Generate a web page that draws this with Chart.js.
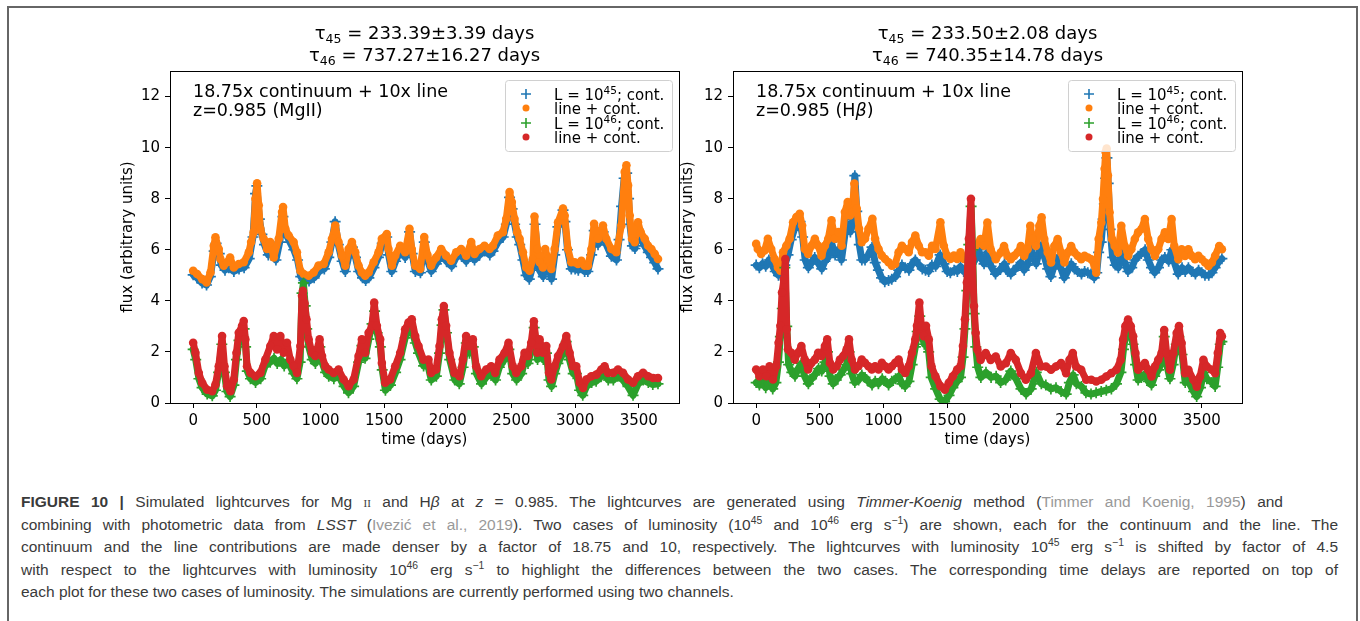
<!DOCTYPE html>
<html>
<head>
<meta charset="utf-8">
<title>Simulated lightcurves</title>
<script src="https://cdn.jsdelivr.net/npm/chart.js@4.4.0/dist/chart.umd.min.js"></script>
<style>
  body { margin: 0; background: #fff; overflow: hidden; }
  #frame { position: absolute; left: 7px; top: 6px; width: 1347px; height: 640px; border: 2px solid #666; border-bottom: none; }
  #mgChart { position: absolute; left: 0; top: 0; }
  #hbChart { position: absolute; left: 672px; top: 0; }
  #caption {
    position: absolute; left: 21px; top: 491px;
    font-family: "Liberation Sans", Arial, Helvetica, sans-serif;
    font-size: 15.5px; line-height: 22.5px; color: #3a3a3a;
  }
  #caption div { white-space: nowrap; }
  #caption .j { text-align: justify; text-align-last: justify; }
  #caption .l1 { width: 1262px; }
  #caption .l2 { width: 1317px; }
  #caption .ref { color: #999; }
  #caption sup { font-size: 0.67em; line-height: 0; }
  #caption .sc { font-family: "Liberation Serif", serif; font-variant: small-caps; }
</style>
</head>
<body>
<div id="frame"></div>
<canvas id="mgChart" width="690" height="460"></canvas>
<canvas id="hbChart" width="688" height="460"></canvas>
<div id="caption">
<div class="j l1"><b>FIGURE 10 |</b> Simulated lightcurves for Mg <span class="sc">ii</span> and H<i>β</i> at <i>z</i> = 0.985. The lightcurves are generated using <i>Timmer-Koenig</i> method (<span class="ref">Timmer and Koenig, 1995</span>) and</div>
<div class="j l2">combining with photometric data from <i>LSST</i> (<span class="ref">Ivezić et al., 2019</span>). Two cases of luminosity (10<sup>45</sup> and 10<sup>46</sup> erg s<sup>−1</sup>) are shown, each for the continuum and the line. The</div>
<div class="j l2">continuum and the line contributions are made denser by a factor of 18.75 and 10, respectively. The lightcurves with luminosity 10<sup>45</sup> erg s<sup>−1</sup> is shifted by factor of 4.5</div>
<div class="j l2">with respect to the lightcurves with luminosity 10<sup>46</sup> erg s<sup>−1</sup> to highlight the differences between the two cases. The corresponding time delays are reported on top of</div>
<div>each plot for these two cases of luminosity. The simulations are currently performed using two channels.</div>
</div>
<script>
// ---- tick labels ----
var xTicks = [0, 500, 1000, 1500, 2000, 2500, 3000, 3500];
var yTicks = [0, 2, 4, 6, 8, 10, 12];

// ---- Mg II panel: L = 1e45 continuum (blue +) ----
var mgCont45Days = [0, 30, 70, 105, 135, 165, 180, 205, 220, 250, 280, 320, 360, 400, 440, 470, 490, 500, 520, 540, 560, 590, 620, 650, 680, 705, 730, 760, 790, 820, 845, 870, 910, 950, 990, 1030, 1065, 1090, 1115, 1140, 1170, 1195, 1225, 1250, 1275, 1300, 1330, 1355, 1380, 1420, 1455, 1485, 1520, 1535, 1560, 1590, 1625, 1665, 1700, 1720, 1745, 1785, 1815, 1840, 1870, 1910, 1950, 1990, 2030, 2065, 2105, 2145, 2185, 2210, 2250, 2290, 2330, 2355, 2395, 2435, 2460, 2485, 2505, 2525, 2545, 2565, 2590, 2615, 2640, 2670, 2685, 2705, 2720, 2750, 2765, 2790, 2815, 2840, 2865, 2905, 2920, 2940, 2970, 3000, 3025, 3050, 3075, 3100, 3130, 3150, 3180, 3220, 3245, 3285, 3325, 3345, 3365, 3385, 3405, 3420, 3430, 3450, 3470, 3495, 3515, 3545, 3575, 3600, 3625, 3651];
var mgCont45 = [5.02, 4.90, 4.70, 4.62, 4.95, 5.95, 6.25, 5.85, 5.40, 5.20, 5.30, 5.15, 5.25, 5.30, 5.65, 6.50, 8.20, 8.50, 7.20, 6.60, 6.20, 5.80, 6.00, 5.60, 6.30, 7.30, 6.60, 6.30, 6.00, 5.60, 4.95, 4.80, 4.78, 4.90, 5.15, 5.25, 5.70, 6.30, 7.10, 6.20, 5.55, 5.15, 5.80, 6.10, 5.70, 5.15, 4.90, 4.80, 4.90, 5.30, 5.70, 6.25, 6.50, 5.80, 5.15, 5.55, 5.95, 5.70, 6.70, 5.85, 5.15, 5.10, 6.30, 5.60, 5.15, 5.45, 5.80, 5.55, 5.35, 5.70, 5.80, 5.55, 6.05, 5.60, 5.80, 5.95, 5.80, 5.95, 6.30, 6.50, 7.00, 8.05, 7.60, 7.00, 6.50, 6.20, 5.60, 5.00, 4.85, 5.40, 7.00, 5.80, 5.20, 4.95, 5.80, 5.40, 4.85, 5.80, 6.90, 7.55, 7.10, 6.00, 5.25, 5.25, 5.20, 5.30, 5.15, 5.15, 5.80, 6.75, 6.20, 6.70, 6.20, 5.75, 5.60, 6.40, 7.70, 8.80, 9.00, 8.00, 7.00, 6.15, 6.05, 6.80, 6.45, 6.15, 5.90, 5.70, 5.50, 5.25];

// ---- Mg II panel: L = 1e45 line + continuum (orange) ----
var mgLine45Days = [0, 31, 71, 105, 136, 162, 175, 201, 214, 240, 267, 290, 319, 358, 397, 437, 455, 475, 489, 502, 515, 528, 554, 580, 605, 633, 672, 698, 706, 724, 750, 789, 815, 842, 868, 907, 946, 985, 1025, 1064, 1090, 1116, 1142, 1168, 1195, 1221, 1247, 1273, 1299, 1325, 1351, 1378, 1417, 1456, 1482, 1521, 1534, 1561, 1587, 1626, 1665, 1699, 1717, 1744, 1783, 1815, 1840, 1869, 1908, 1948, 1987, 2026, 2066, 2105, 2144, 2184, 2210, 2249, 2288, 2328, 2354, 2393, 2433, 2459, 2485, 2503, 2524, 2545, 2564, 2590, 2616, 2642, 2668, 2681, 2703, 2721, 2747, 2765, 2787, 2813, 2839, 2866, 2905, 2918, 2944, 2970, 2997, 3023, 3049, 3075, 3101, 3128, 3149, 3180, 3219, 3245, 3285, 3324, 3363, 3390, 3403, 3416, 3429, 3447, 3468, 3494, 3515, 3547, 3573, 3599, 3625, 3651];
var mgLine45 = [5.18, 5.05, 4.85, 4.72, 5.11, 6.16, 6.49, 6.03, 5.64, 5.38, 5.51, 5.70, 5.31, 5.44, 5.51, 5.90, 6.30, 6.69, 8.00, 8.60, 7.74, 6.82, 6.43, 6.03, 6.30, 5.70, 6.43, 7.48, 7.67, 6.82, 6.56, 6.30, 5.90, 5.18, 5.05, 4.98, 5.11, 5.38, 5.44, 5.90, 6.43, 6.95, 6.30, 5.77, 5.38, 6.03, 6.30, 5.90, 5.38, 5.11, 4.98, 5.11, 5.51, 5.90, 6.43, 6.62, 6.03, 5.38, 5.77, 6.16, 5.90, 6.82, 6.03, 5.38, 5.25, 6.50, 5.80, 5.38, 5.70, 6.03, 5.77, 5.57, 5.90, 6.03, 5.77, 6.30, 5.84, 6.03, 6.16, 6.03, 6.16, 6.56, 6.69, 7.21, 8.26, 7.87, 7.21, 6.69, 6.43, 5.90, 5.31, 5.18, 5.64, 7.30, 6.03, 5.51, 5.31, 6.03, 5.64, 5.25, 6.03, 7.08, 7.61, 7.34, 6.03, 5.51, 5.51, 5.44, 5.57, 5.38, 5.38, 6.03, 7.02, 6.43, 6.95, 6.43, 6.03, 5.90, 6.95, 9.05, 9.31, 8.52, 7.34, 6.43, 6.30, 7.08, 6.69, 6.43, 6.16, 6.03, 5.84, 5.64];

// ---- Mg II panel: L = 1e46 continuum (green +) ----
var mgCont46Days = [0, 20, 45, 70, 110, 150, 175, 200, 225, 245, 265, 290, 320, 340, 360, 385, 400, 412, 425, 450, 490, 530, 565, 605, 635, 660, 690, 715, 740, 765, 790, 815, 840, 855, 866, 880, 892, 908, 935, 960, 995, 1015, 1040, 1065, 1105, 1145, 1185, 1220, 1260, 1300, 1325, 1350, 1380, 1405, 1425, 1445, 1470, 1485, 1510, 1550, 1590, 1625, 1665, 1690, 1715, 1745, 1770, 1810, 1845, 1870, 1910, 1935, 1955, 1970, 1990, 2015, 2055, 2090, 2120, 2145, 2170, 2200, 2225, 2265, 2300, 2340, 2375, 2405, 2445, 2480, 2510, 2540, 2580, 2605, 2630, 2655, 2678, 2705, 2720, 2750, 2775, 2795, 2815, 2840, 2865, 2905, 2930, 2955, 2985, 3010, 3035, 3060, 3090, 3130, 3165, 3205, 3230, 3260, 3300, 3335, 3375, 3415, 3455, 3495, 3535, 3575, 3610, 3651];
var mgCont46 = [2.10, 1.70, 0.95, 0.60, 0.35, 0.28, 0.50, 1.20, 2.30, 1.20, 0.45, 0.25, 0.70, 1.70, 2.45, 2.80, 2.90, 2.20, 1.25, 0.95, 0.80, 0.95, 1.45, 1.60, 1.75, 1.55, 1.70, 1.45, 1.60, 1.40, 1.15, 0.95, 1.60, 4.30, 4.70, 3.80, 2.90, 2.20, 1.70, 1.55, 2.20, 1.55, 1.20, 1.05, 0.95, 1.05, 0.65, 0.40, 0.65, 1.60, 2.25, 1.75, 2.50, 3.10, 3.60, 2.75, 2.20, 1.30, 0.50, 0.70, 1.20, 1.70, 2.55, 2.85, 2.95, 2.35, 1.95, 1.45, 1.45, 0.90, 1.05, 1.95, 3.05, 3.65, 2.75, 1.70, 0.90, 0.75, 1.40, 2.35, 1.95, 2.20, 1.15, 0.75, 1.00, 1.15, 0.90, 1.40, 1.70, 2.10, 1.15, 0.90, 1.15, 1.70, 1.55, 2.10, 2.95, 1.70, 2.20, 1.70, 1.95, 0.90, 0.65, 1.15, 1.55, 1.95, 2.40, 1.70, 1.15, 1.15, 0.50, 0.30, 0.65, 0.80, 0.85, 1.05, 1.15, 0.90, 0.90, 1.05, 0.90, 0.65, 0.30, 0.75, 0.90, 0.80, 0.72, 0.75];

// ---- Mg II panel: L = 1e46 line + continuum (red) ----
var mgLine46Days = [0, 18, 44, 71, 110, 149, 175, 201, 227, 246, 267, 293, 319, 340, 358, 384, 397, 410, 423, 450, 489, 528, 567, 606, 633, 659, 685, 711, 737, 763, 789, 815, 842, 855, 862, 875, 890, 907, 933, 959, 993, 1012, 1038, 1064, 1103, 1142, 1182, 1221, 1260, 1299, 1325, 1351, 1378, 1404, 1422, 1443, 1469, 1482, 1508, 1547, 1587, 1626, 1665, 1691, 1717, 1744, 1770, 1809, 1848, 1869, 1908, 1935, 1953, 1969, 1987, 2013, 2052, 2092, 2118, 2144, 2170, 2197, 2223, 2262, 2302, 2341, 2372, 2406, 2446, 2477, 2511, 2537, 2577, 2603, 2629, 2655, 2676, 2703, 2721, 2747, 2774, 2795, 2813, 2839, 2866, 2905, 2931, 2957, 2983, 3009, 3036, 3062, 3088, 3128, 3167, 3206, 3232, 3258, 3298, 3337, 3376, 3416, 3455, 3494, 3534, 3573, 3612, 3651];
var mgLine46 = [2.36, 1.97, 1.18, 0.79, 0.52, 0.46, 0.72, 1.44, 2.62, 1.44, 0.66, 0.46, 0.92, 1.97, 2.75, 3.02, 3.21, 2.49, 1.44, 1.18, 1.05, 1.18, 1.70, 2.23, 2.62, 2.10, 2.62, 1.97, 2.36, 1.70, 1.44, 1.18, 2.23, 4.20, 4.39, 3.90, 3.28, 2.49, 1.97, 1.84, 2.49, 1.84, 1.44, 1.31, 1.18, 1.31, 0.92, 0.66, 0.92, 1.84, 2.49, 1.97, 2.75, 3.02, 3.93, 3.02, 2.49, 1.57, 0.79, 0.92, 1.44, 1.97, 2.89, 3.15, 3.28, 2.62, 2.23, 1.70, 1.70, 1.18, 1.31, 2.23, 3.28, 3.80, 3.02, 1.97, 1.18, 1.05, 1.70, 2.62, 2.23, 2.49, 1.44, 1.05, 1.31, 1.44, 1.18, 1.70, 1.97, 2.36, 1.44, 1.18, 1.44, 1.97, 1.84, 2.36, 3.20, 1.97, 2.49, 1.97, 2.23, 1.18, 0.92, 1.44, 1.84, 2.23, 2.62, 1.97, 1.44, 1.44, 0.79, 0.59, 0.92, 1.05, 1.11, 1.31, 1.44, 1.18, 1.18, 1.31, 1.18, 0.92, 0.79, 1.05, 1.18, 1.05, 0.98, 0.98];

// ---- H beta panel: L = 1e45 continuum (blue +) ----
var hbCont45Days = [0, 25, 50, 75, 100, 125, 150, 175, 200, 225, 250, 275, 300, 325, 345, 365, 385, 410, 435, 460, 490, 515, 540, 565, 590, 620, 645, 670, 700, 720, 740, 760, 775, 790, 810, 830, 855, 880, 910, 935, 960, 985, 1010, 1040, 1065, 1095, 1120, 1145, 1170, 1200, 1225, 1250, 1280, 1305, 1330, 1355, 1380, 1410, 1445, 1475, 1500, 1525, 1555, 1580, 1605, 1630, 1660, 1690, 1720, 1745, 1765, 1790, 1815, 1845, 1880, 1920, 1950, 1975, 2000, 2025, 2055, 2080, 2105, 2130, 2155, 2175, 2200, 2225, 2245, 2265, 2290, 2315, 2345, 2370, 2395, 2420, 2450, 2475, 2500, 2525, 2555, 2580, 2605, 2630, 2655, 2675, 2690, 2710, 2725, 2735, 2745, 2755, 2765, 2780, 2800, 2820, 2845, 2870, 2895, 2920, 2950, 2975, 3000, 3025, 3055, 3080, 3105, 3130, 3160, 3185, 3210, 3240, 3265, 3285, 3315, 3345, 3370, 3395, 3420, 3450, 3475, 3500, 3525, 3555, 3580, 3605, 3635, 3658];
var hbCont45 = [5.40, 5.30, 5.45, 5.35, 5.60, 5.40, 5.15, 5.00, 5.10, 5.40, 5.80, 6.40, 6.80, 6.95, 7.10, 6.50, 5.60, 5.30, 5.50, 5.70, 5.45, 5.25, 5.55, 5.70, 6.30, 5.80, 6.00, 5.60, 6.70, 7.00, 6.70, 7.20, 8.90, 7.50, 6.20, 5.60, 5.60, 5.80, 6.10, 5.50, 5.20, 4.90, 4.75, 4.80, 4.85, 4.95, 5.20, 5.40, 5.30, 5.20, 5.45, 5.60, 5.40, 5.25, 5.20, 5.15, 5.40, 5.35, 5.80, 5.45, 5.15, 5.10, 5.20, 5.15, 5.35, 5.15, 5.25, 5.45, 5.60, 6.00, 5.70, 5.45, 5.90, 5.35, 5.05, 5.25, 5.45, 5.15, 5.05, 5.20, 5.35, 5.50, 5.20, 5.40, 6.10, 5.70, 5.45, 6.00, 6.20, 5.70, 5.25, 4.95, 5.45, 5.70, 5.25, 4.90, 5.20, 5.45, 5.25, 5.15, 5.05, 5.15, 5.10, 5.05, 4.90, 5.10, 5.90, 6.30, 7.20, 7.80, 8.80, 9.60, 8.60, 6.80, 5.70, 5.40, 5.30, 5.90, 5.50, 5.15, 5.30, 5.60, 5.75, 5.85, 6.00, 5.60, 5.30, 5.10, 5.30, 5.60, 5.70, 5.55, 6.00, 5.50, 5.05, 5.30, 5.15, 5.30, 5.15, 5.05, 5.20, 5.10, 5.00, 5.00, 5.10, 5.30, 5.55, 5.65];

// ---- H beta panel: L = 1e45 line + continuum (orange) ----
var hbLine45Days = [0, 13, 39, 66, 92, 118, 145, 171, 190, 211, 237, 263, 290, 316, 342, 361, 382, 408, 434, 461, 487, 513, 540, 566, 592, 618, 645, 671, 697, 719, 737, 755, 771, 790, 808, 829, 855, 882, 913, 934, 961, 987, 1013, 1040, 1066, 1092, 1119, 1145, 1171, 1198, 1224, 1250, 1277, 1303, 1329, 1356, 1382, 1408, 1447, 1474, 1500, 1526, 1553, 1579, 1605, 1632, 1658, 1684, 1724, 1763, 1789, 1816, 1842, 1882, 1921, 1947, 1974, 2000, 2026, 2053, 2079, 2105, 2132, 2153, 2171, 2197, 2224, 2242, 2263, 2290, 2316, 2342, 2368, 2395, 2421, 2447, 2474, 2500, 2526, 2553, 2579, 2605, 2632, 2658, 2671, 2690, 2711, 2724, 2737, 2745, 2753, 2763, 2776, 2795, 2816, 2842, 2868, 2895, 2921, 2947, 2974, 3000, 3026, 3053, 3079, 3105, 3132, 3158, 3184, 3210, 3237, 3263, 3284, 3316, 3342, 3369, 3395, 3421, 3447, 3474, 3500, 3526, 3553, 3579, 3605, 3637, 3658];
var hbLine45 = [6.23, 6.03, 5.84, 5.97, 6.43, 6.03, 5.64, 5.31, 5.18, 5.90, 6.16, 6.43, 7.08, 7.28, 7.41, 6.95, 6.03, 5.84, 6.16, 6.43, 6.16, 5.77, 6.16, 6.43, 7.15, 6.43, 6.69, 6.16, 7.48, 7.87, 7.34, 7.48, 8.59, 7.61, 6.82, 6.30, 6.43, 6.82, 7.21, 6.43, 6.03, 5.77, 5.64, 5.51, 5.38, 5.44, 5.90, 6.16, 6.03, 5.90, 6.30, 6.56, 6.16, 5.90, 5.90, 5.77, 6.16, 6.03, 7.08, 6.16, 5.77, 5.64, 5.77, 5.64, 5.90, 5.64, 5.64, 5.90, 6.16, 6.42, 6.16, 7.07, 6.02, 5.63, 5.89, 6.15, 5.76, 5.63, 5.76, 5.89, 6.15, 5.76, 6.02, 6.94, 6.42, 6.15, 6.94, 7.27, 6.42, 5.89, 5.50, 6.15, 6.42, 5.89, 5.50, 5.89, 6.15, 5.89, 5.76, 5.63, 5.76, 5.70, 5.63, 5.37, 5.10, 6.42, 7.07, 7.99, 9.17, 9.83, 9.96, 8.91, 7.47, 6.42, 6.15, 5.89, 6.94, 6.15, 5.76, 6.02, 6.42, 6.68, 6.81, 7.20, 6.42, 6.02, 5.76, 6.02, 6.42, 6.68, 6.42, 7.20, 6.15, 5.63, 6.02, 5.76, 6.02, 5.76, 5.63, 5.76, 5.63, 5.50, 5.37, 5.50, 5.76, 6.15, 6.02];

// ---- H beta panel: L = 1e46 continuum (green +) ----
var hbCont46Days = [0, 25, 50, 75, 100, 130, 155, 175, 190, 205, 215, 225, 240, 255, 280, 305, 330, 355, 380, 410, 435, 460, 490, 515, 540, 560, 580, 605, 630, 660, 685, 710, 730, 750, 775, 805, 830, 855, 880, 910, 935, 960, 990, 1015, 1040, 1065, 1095, 1120, 1145, 1170, 1200, 1225, 1250, 1265, 1285, 1300, 1320, 1335, 1355, 1375, 1410, 1445, 1480, 1515, 1545, 1580, 1605, 1625, 1640, 1655, 1670, 1688, 1700, 1712, 1725, 1740, 1765, 1805, 1845, 1885, 1920, 1960, 2000, 2040, 2080, 2120, 2160, 2200, 2240, 2275, 2315, 2355, 2395, 2435, 2460, 2490, 2515, 2555, 2590, 2630, 2670, 2710, 2750, 2790, 2830, 2865, 2885, 2900, 2920, 2940, 2960, 2980, 3000, 3025, 3055, 3080, 3105, 3130, 3160, 3185, 3205, 3225, 3250, 3275, 3300, 3320, 3345, 3370, 3395, 3435, 3460, 3490, 3515, 3540, 3580, 3605, 3625, 3645, 3658];
var hbCont46 = [0.80, 0.70, 0.85, 0.60, 0.90, 0.55, 0.80, 1.60, 2.60, 3.70, 4.30, 5.30, 3.00, 1.50, 1.20, 1.05, 1.35, 1.55, 1.05, 0.75, 0.95, 1.10, 1.35, 1.25, 1.60, 2.00, 1.05, 0.75, 0.90, 1.10, 1.30, 1.50, 2.00, 1.15, 0.80, 0.90, 1.10, 1.00, 0.85, 0.70, 0.85, 0.75, 0.95, 0.85, 0.70, 0.85, 0.95, 1.05, 0.75, 0.65, 0.85, 1.50, 2.20, 2.80, 3.40, 2.70, 2.30, 2.50, 2.00, 1.00, 0.55, 0.15, 0.05, 0.30, 0.60, 0.85, 1.00, 1.80, 2.90, 4.40, 6.20, 7.70, 6.00, 3.50, 2.20, 1.40, 1.00, 1.20, 1.00, 1.05, 0.80, 0.90, 1.25, 0.95, 0.55, 0.35, 0.55, 1.20, 0.75, 0.70, 0.55, 0.60, 0.45, 0.35, 0.80, 1.10, 0.75, 0.65, 0.40, 0.35, 0.40, 0.45, 0.50, 0.55, 0.75, 1.20, 2.10, 2.60, 2.80, 2.70, 2.30, 1.50, 0.90, 1.00, 1.15, 0.85, 0.70, 1.05, 1.30, 1.60, 2.60, 1.50, 0.95, 1.50, 2.30, 2.60, 1.90, 0.80, 0.85, 0.45, 0.25, 0.60, 1.20, 0.95, 0.80, 0.65, 1.40, 2.30, 2.40];

// ---- H beta panel: L = 1e46 line + continuum (red) ----
var hbLine46Days = [0, 26, 53, 79, 105, 132, 158, 176, 190, 203, 218, 229, 240, 250, 276, 303, 329, 355, 382, 408, 434, 461, 487, 513, 540, 558, 579, 605, 632, 658, 684, 711, 729, 750, 776, 803, 829, 855, 882, 908, 934, 961, 987, 1013, 1040, 1066, 1092, 1119, 1145, 1171, 1198, 1224, 1250, 1263, 1282, 1298, 1316, 1334, 1356, 1377, 1408, 1447, 1482, 1513, 1545, 1579, 1605, 1624, 1640, 1655, 1671, 1687, 1698, 1711, 1724, 1737, 1763, 1803, 1842, 1882, 1921, 1961, 2000, 2039, 2079, 2118, 2158, 2197, 2237, 2276, 2316, 2355, 2395, 2434, 2461, 2487, 2513, 2553, 2592, 2632, 2671, 2711, 2750, 2790, 2829, 2863, 2882, 2900, 2921, 2942, 2961, 2979, 3000, 3026, 3053, 3079, 3105, 3132, 3158, 3184, 3205, 3224, 3250, 3276, 3303, 3321, 3342, 3369, 3395, 3434, 3461, 3487, 3513, 3539, 3579, 3605, 3626, 3645, 3658];
var hbLine46 = [1.31, 1.05, 1.31, 1.05, 1.44, 0.92, 1.44, 2.36, 3.02, 4.33, 4.85, 5.64, 2.89, 2.10, 1.97, 1.70, 1.97, 2.23, 1.70, 1.31, 1.57, 1.70, 1.97, 1.84, 2.23, 2.49, 1.57, 1.31, 1.44, 1.70, 1.84, 2.10, 2.49, 1.70, 1.31, 1.44, 1.70, 1.57, 1.44, 1.31, 1.44, 1.31, 1.57, 1.44, 1.31, 1.44, 1.57, 1.70, 1.31, 1.18, 1.44, 1.97, 2.49, 3.02, 3.93, 3.02, 2.62, 3.02, 2.49, 1.44, 1.05, 0.66, 0.52, 0.79, 1.05, 1.31, 1.44, 2.23, 3.28, 4.72, 6.43, 8.00, 5.64, 3.80, 2.75, 2.10, 1.69, 1.96, 1.69, 1.82, 1.43, 1.56, 1.96, 1.69, 1.17, 0.91, 1.17, 1.96, 1.43, 1.43, 1.30, 1.43, 1.56, 1.17, 1.69, 1.96, 1.43, 1.30, 0.91, 0.91, 0.84, 0.91, 1.04, 1.17, 1.30, 1.69, 2.48, 3.01, 3.27, 3.01, 2.61, 1.96, 1.30, 1.43, 1.56, 1.30, 1.04, 1.43, 1.69, 1.96, 2.86, 1.96, 1.30, 1.96, 2.74, 3.01, 2.35, 1.17, 1.30, 0.91, 0.64, 1.04, 1.69, 1.43, 1.30, 1.17, 1.96, 2.74, 2.61];

// ---- titles and labels ----
var mgDelays = ["233.39±3.39", "737.27±16.27"];
var hbDelays = ["233.50±2.08", "740.35±14.78"];
var legendLabels = ["L = 10|45|; cont.", "line + cont.", "L = 10|46|; cont.", "line + cont."];

var BLUE = "#1f77b4", ORANGE = "#ff7f0e", GREEN = "#2ca02c", RED = "#d62728";
var FONT = "'DejaVu Sans', sans-serif";

function toPoints(days, vals) {
  return days.map(function (d, i) { return { x: d, y: vals[i] }; });
}

// draws a run of text pieces; each piece can be smaller and shifted (sub/superscripts)
function drawRuns(ctx, runs, x, y, center) {
  var total = 0;
  runs.forEach(function (r) {
    ctx.font = (r.italic ? "italic " : "") + r.size + "px " + FONT;
    r.w = ctx.measureText(r.t).width;
    total += r.w;
  });
  var cx = center ? x - total / 2 : x;
  ctx.textBaseline = "alphabetic";
  ctx.textAlign = "left";
  runs.forEach(function (r) {
    ctx.font = (r.italic ? "italic " : "") + r.size + "px " + FONT;
    ctx.fillText(r.t, cx, y + (r.dy || 0));
    cx += r.w;
  });
}

function panelPlugin(delays, annotLine2) {
  return {
    id: "panelDecor",
    afterDatasetsDraw: function (chart) {
      var ctx = chart.ctx, a = chart.chartArea;
      ctx.save();
      // box around the axes
      ctx.strokeStyle = "#000";
      ctx.lineWidth = 1;
      ctx.strokeRect(a.left + 0.5, a.top + 0.5, a.right - a.left, a.bottom - a.top);

      ctx.fillStyle = "#000";
      var mid = (a.left + a.right) / 2;
      // two-line title with subscripts
      drawRuns(ctx, [{ t: "τ", size: 18 }, { t: "45", size: 12.5, dy: 4 }, { t: " = " + delays[0] + " days", size: 18 }], mid, 39, true);
      drawRuns(ctx, [{ t: "τ", size: 18 }, { t: "46", size: 12.5, dy: 4 }, { t: " = " + delays[1] + " days", size: 18 }], mid, 61, true);

      // text inside the axes
      drawRuns(ctx, [{ t: "18.75x continuum + 10x line", size: 17.5 }], a.left + 23, a.top + 26, false);
      drawRuns(ctx, annotLine2, a.left + 23, a.top + 45, false);

      // legend
      var bw = 167, bh = 71;
      var bx = a.right - 7 - bw, by = a.top + 9;
      ctx.fillStyle = "rgba(255,255,255,0.8)";
      ctx.strokeStyle = "#d0d0d0";
      ctx.beginPath();
      ctx.roundRect(bx + 0.5, by + 0.5, bw, bh, 3);
      ctx.fill();
      ctx.stroke();
      var rows = [14, 28, 43, 57];
      var colors = [BLUE, ORANGE, GREEN, RED];
      rows.forEach(function (ry, i) {
        var mx = bx + 21, my = by + ry;
        if (i % 2 === 0) {
          ctx.strokeStyle = colors[i];
          ctx.lineWidth = 1.6;
          ctx.beginPath();
          ctx.moveTo(mx - 5, my); ctx.lineTo(mx + 5, my);
          ctx.moveTo(mx, my - 5); ctx.lineTo(mx, my + 5);
          ctx.stroke();
        } else {
          ctx.fillStyle = colors[i];
          ctx.beginPath();
          ctx.arc(mx, my, 3.5, 0, Math.PI * 2);
          ctx.fill();
        }
        ctx.fillStyle = "#000";
        var parts = legendLabels[i].split("|");
        var runs = [{ t: parts[0], size: 15 }];
        if (parts.length > 1) {
          runs.push({ t: parts[1], size: 10.5, dy: -6 });
          runs.push({ t: parts[2], size: 15 });
        }
        drawRuns(ctx, runs, bx + 49, my + 5.5, false);
      });
      ctx.restore();
    }
  };
}

function makePanel(canvasId, series, delays, annotLine2, yTitlePad, padRight) {
  var ctx = document.getElementById(canvasId).getContext("2d");
  var axisFont = { family: FONT, size: 15 };
  return new Chart(ctx, {
    type: "scatter",
    data: {
      datasets: [
        { data: toPoints(series[0], series[1]), borderColor: BLUE, backgroundColor: BLUE, pointStyle: "cross", pointRadius: 5.5, pointBorderWidth: 1.7, showLine: true, borderWidth: 7, order: 4 },
        { data: toPoints(series[2], series[3]), borderColor: ORANGE, backgroundColor: ORANGE, pointStyle: "circle", pointRadius: 4.3, pointBorderWidth: 0, showLine: true, borderWidth: 7, order: 3 },
        { data: toPoints(series[4], series[5]), borderColor: GREEN, backgroundColor: GREEN, pointStyle: "cross", pointRadius: 5.5, pointBorderWidth: 1.7, showLine: true, borderWidth: 7, order: 2 },
        { data: toPoints(series[6], series[7]), borderColor: RED, backgroundColor: RED, pointStyle: "circle", pointRadius: 4.3, pointBorderWidth: 0, showLine: true, borderWidth: 7, order: 1 }
      ]
    },
    options: {
      responsive: false,
      animation: false,
      events: [],
      elements: { line: { borderJoinStyle: "round", borderCapStyle: "round", tension: 0 } },
      layout: { padding: { top: 71, right: padRight, bottom: 0, left: 0 } },
      plugins: { legend: { display: false }, tooltip: { enabled: false }, title: { display: false } },
      scales: {
        x: {
          type: "linear", min: -182, max: 3816,
          afterBuildTicks: function (s) { s.ticks = xTicks.map(function (v) { return { value: v }; }); },
          afterFit: function (s) { s.height = 57; },
          ticks: { font: axisFont, color: "#000", padding: 4, maxRotation: 0, autoSkip: false, callback: function (v) { return String(v); } },
          grid: { drawOnChartArea: false, tickLength: 5, color: "#000" },
          border: { color: "#000" },
          title: { display: true, text: "time (days)", font: axisFont, color: "#000", padding: { top: 0, bottom: 11 } }
        },
        y: {
          type: "linear", min: 0, max: 13,
          afterBuildTicks: function (s) { s.ticks = yTicks.map(function (v) { return { value: v }; }); },
          afterFit: function (s) { s.width = yTitlePad.width; },
          ticks: { font: axisFont, color: "#000", padding: 5, callback: function (v) { return String(v); } },
          grid: { drawOnChartArea: false, tickLength: 5, color: "#000" },
          border: { color: "#000" },
          title: { display: true, text: "flux (arbitrary units)", font: axisFont, color: "#000", padding: { top: yTitlePad.pad, bottom: 0 } }
        }
      }
    },
    plugins: [panelPlugin(delays, annotLine2)]
  });
}

makePanel("mgChart",
  [mgCont45Days, mgCont45, mgLine45Days, mgLine45, mgCont46Days, mgCont46, mgLine46Days, mgLine46],
  mgDelays,
  [{ t: "z=0.985 (MgII)", size: 17.5 }],
  { width: 170, pad: 119 }, 11);

makePanel("hbChart",
  [hbCont45Days, hbCont45, hbLine45Days, hbLine45, hbCont46Days, hbCont46, hbLine46Days, hbLine46],
  hbDelays,
  [{ t: "z=0.985 (H", size: 17.5 }, { t: "β", size: 17.5, italic: true }, { t: ")", size: 17.5 }],
  { width: 61, pad: 7 }, 118);
</script>
</body>
</html>
